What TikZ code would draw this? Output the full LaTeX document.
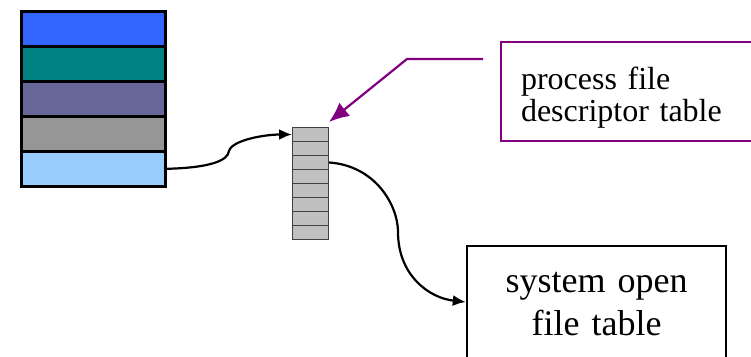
\documentclass[tikz,border=0pt]{standalone}
\usepackage{fontspec}
\setmainfont{Liberation Serif}
\usetikzlibrary{arrows.meta, calc}

\definecolor{rowA}{HTML}{3366FF}
\definecolor{rowB}{HTML}{008080}
\definecolor{rowC}{HTML}{666699}
\definecolor{rowD}{HTML}{969696}
\definecolor{rowE}{HTML}{99CCFF}
\definecolor{cellgray}{HTML}{C0C0C0}
\definecolor{descpurple}{HTML}{800080}

\begin{document}
\begin{tikzpicture}[x=1pt, y=-1pt,
	stackrow/.style={draw=black, line width=2.6pt, minimum width=144pt, minimum height=35pt, inner sep=0pt, anchor=north west},
	fdcell/.style={draw=black!75, fill=cellgray, line width=1pt, minimum width=36pt, minimum height=14pt, inner sep=0pt, anchor=north west},
	procbox/.style={draw=descpurple, line width=2pt, minimum width=280pt, minimum height=99pt, text width=240pt, inner xsep=18pt, inner ysep=0pt, align=left, anchor=north west, font=\fontsize{32}{32}\selectfont},
	sysbox/.style={draw=black, line width=2.4pt, text width=223pt, inner xsep=18pt, inner ysep=26pt, align=center, anchor=north, font=\fontsize{36}{43}\selectfont},
	link/.style={line width=2.2pt, -{Latex[length=13pt, width=11pt]}},
	pointer/.style={draw=descpurple, line width=2.2pt, -{Latex[length=20pt, width=17pt]}}]
	\useasboundingbox (0,0) rectangle (751,356);
	\clip (0,0) rectangle (751,356);

	% process stack
	\foreach \c [count=\i] in {rowA,rowB,rowC,rowD,rowE}
		\node[stackrow, fill=\c] (row\i) at (20,{10+35*(\i-1)}) {};

	% file descriptor table
	\foreach \i in {1,...,8}
		\node[fdcell] (cell\i) at (292,{127+14*(\i-1)}) {};
	\coordinate (fdt-nw) at (cell1.north west);
	\coordinate (fdt-ne) at (cell1.north east);

	\node[procbox] (pfd) at (500,41) {\rule{0pt}{34pt}process file\\descriptor table};
	\node[sysbox] (sot) at (596.5,245) {system open\\file table};

	% connectors
	\draw[link] (row5.east) .. controls +(42,-1) and +(-1,10) .. (229,151)
		.. controls +(3,-11) and +(-27,0) .. (cell1.west);
	\draw[link] (cell3.east) .. controls +(46,3) and +(0,-27) .. (398,232)
		.. controls +(0,43) and +(-37,-4) .. (sot.west |- 0,302);
	\coordinate (tail) at (483,59);
	\coordinate (bend) at (407,59);
	\draw[pointer] (tail) -- (bend) -- ($(fdt-ne)+(0,-5)$);
\end{tikzpicture}
\end{document}
